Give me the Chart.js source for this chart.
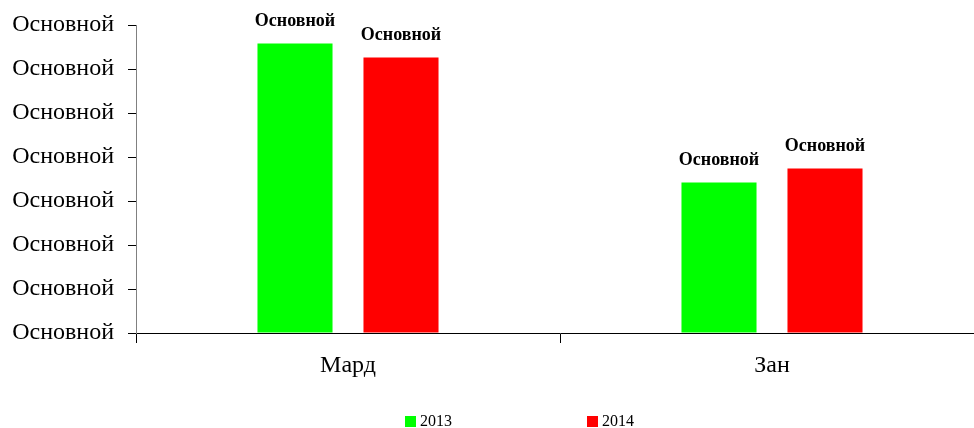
<!DOCTYPE html>
<html>
<head>
<meta charset="utf-8">
<script src="https://cdn.jsdelivr.net/npm/chart.js@4/dist/chart.umd.min.js"></script>
<style>
  html, body { margin: 0; padding: 0; background: #fff; overflow: hidden; }
  #wrap { width: 984px; height: 428px; }
</style>
</head>
<body>
<div id="wrap"><canvas id="chart" width="984" height="428"></canvas></div>
<script>
const categories = ['Мард', 'Зан']
const years = ['2013', '2014']
const values2013 = [65.8, 34.2]
const values2014 = [62.6, 37.4]
const tickLabel = 'Основной'
const dataLabel = 'Основной'

const SERIF = '"Liberation Serif", "Times New Roman", serif'

// value labels above each bar + custom bottom legend
const extras = {
  id: 'extras',
  afterDatasetsDraw(chart) {
    const ctx = chart.ctx
    ctx.save()
    ctx.font = 'bold 18px ' + SERIF
    ctx.fillStyle = '#000'
    ctx.textAlign = 'center'
    ctx.textBaseline = 'bottom'
    chart.data.datasets.forEach((ds, i) => {
      chart.getDatasetMeta(i).data.forEach((bar) => {
        ctx.fillText(dataLabel, bar.x, bar.y - 13)
      })
    })
    ctx.restore()
  },
  afterDraw(chart) {
    const ctx = chart.ctx
    const starts = [405, 587]
    ctx.save()
    ctx.font = '16px ' + SERIF
    ctx.textBaseline = 'middle'
    chart.data.datasets.forEach((ds, i) => {
      ctx.fillStyle = ds.backgroundColor
      ctx.fillRect(starts[i], 416, 11, 11)
      ctx.fillStyle = '#000'
      ctx.fillText(ds.label, starts[i] + 15, 422)
    })
    ctx.restore()
  },
}

new Chart(document.getElementById('chart'), {
  type: 'bar',
  data: {
    labels: categories,
    datasets: [
      { label: years[0], data: values2013, backgroundColor: '#00ff00' },
      { label: years[1], data: values2014, backgroundColor: '#ff0000' },
    ],
  },
  plugins: [extras],
  options: {
    animation: false,
    responsive: false,
    layout: { padding: { top: 0, right: 0, left: 0, bottom: 0 } },
    datasets: {
      bar: { categoryPercentage: 0.5, barPercentage: 0.708 },
    },
    plugins: {
      legend: { display: false },
      tooltip: { enabled: false },
    },
    scales: {
      x: {
        offset: true,
        afterFit(scale) { scale.height = 95 },
        grid: {
          offset: true,
          drawOnChartArea: false,
          tickLength: 10,
          tickColor: '#000',
        },
        border: { display: true, color: '#000', width: 1 },
        ticks: {
          padding: 8,
          color: '#000',
          font: { family: SERIF, size: 24 },
        },
      },
      y: {
        min: 0,
        max: 70,
        afterFit(scale) { scale.width = 136 },
        grid: {
          drawOnChartArea: false,
          tickLength: 8,
          tickColor: '#000',
        },
        border: { display: true, color: '#808080', width: 1 },
        ticks: {
          stepSize: 10,
          padding: 14,
          color: '#000',
          font: { family: SERIF, size: 24, lineHeight: 0.92 },
          callback: () => tickLabel,
        },
      },
    },
  },
})
</script>
</body>
</html>
